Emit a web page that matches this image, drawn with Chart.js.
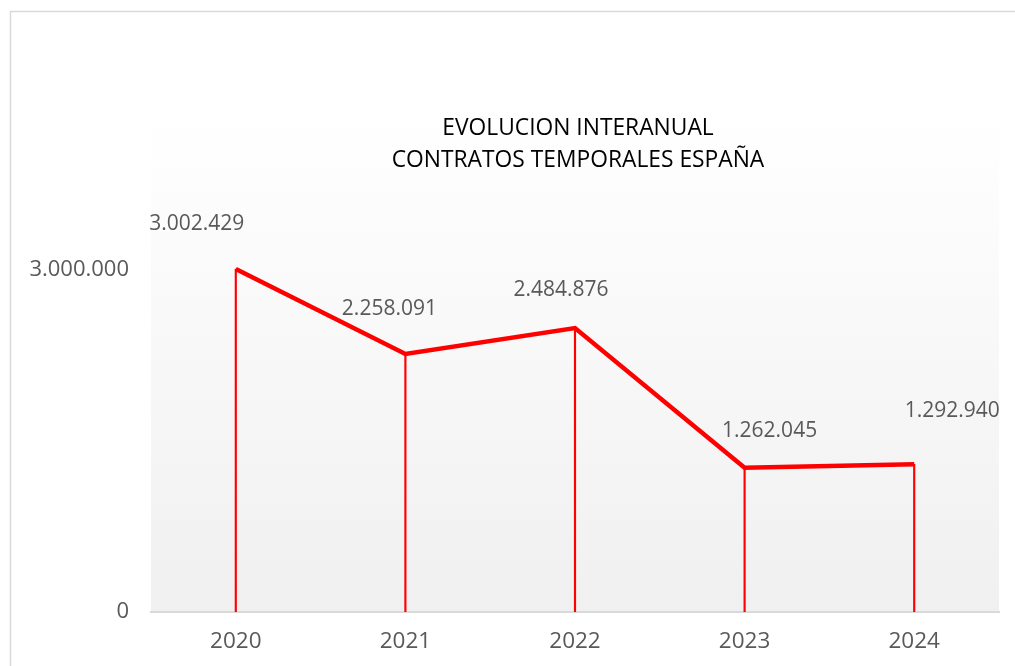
<!DOCTYPE html>
<html>
<head>
<meta charset="utf-8">
<script src="https://cdn.jsdelivr.net/npm/chart.js@4"></script>
<style>
  html, body { margin: 0; padding: 0; background: #fff; }
  #wrap { width: 1015px; height: 666px; position: relative; }
</style>
</head>
<body>
<div id="wrap"><canvas id="chart" width="1015" height="666"></canvas></div>
<script>
// Data
const years = ['2020', '2021', '2022', '2023', '2024'];
const contratos = [3002429, 2258091, 2484876, 1262045, 1292940];
const yTicks = [0, 3000000];
const titleLines = ['EVOLUCION INTERANUAL', 'CONTRATOS TEMPORALES ESPAÑA'];

function fmt(n) {
    return String(n).replace(/\B(?=(\d{3})+(?!\d))/g, '.');
}

// Label offsets (x, y) relative to each point
const labelOffsets = [[-39, -45], [-16, -45], [-14, -38], [25, -37], [38, -53]];

const backdrop = {
    id: 'backdrop',
    beforeDraw(chart) {
        const ctx = chart.ctx;
        const a = chart.chartArea;
        ctx.save();
        ctx.fillStyle = '#fff';
        ctx.fillRect(0, 0, chart.width, chart.height);
        ctx.strokeStyle = '#d9d9d9';
        ctx.lineWidth = 1.5;
        ctx.strokeRect(10.5, 11.5, 1100, 700);
        const g = ctx.createLinearGradient(0, a.top, 0, a.bottom);
        g.addColorStop(0, '#ffffff');
        g.addColorStop(1, '#f0f0f0');
        ctx.fillStyle = g;
        ctx.fillRect(a.left, a.top, a.right - a.left, a.bottom - a.top);
        ctx.restore();
    },
    afterDatasetsDraw(chart) {
        const ctx = chart.ctx;
        const meta = chart.getDatasetMeta(1);
        ctx.save();
        ctx.font = '21px "Open Sans"';
        ctx.fillStyle = '#595959';
        ctx.textAlign = 'center';
        ctx.textBaseline = 'middle';
        meta.data.forEach((pt, i) => {
            const o = labelOffsets[i];
            ctx.fillText(fmt(contratos[i]), pt.x + o[0], pt.y + o[1]);
        });
        // title
        ctx.fillStyle = '#000';
        ctx.font = '22.8px "Liberation Sans Narrow", "Open Sans"';
        ctx.fillText(titleLines[0], 578, 129);
        ctx.fillText(titleLines[1], 578, 161);
        ctx.restore();
    }
};

new Chart(document.getElementById('chart'), {
    data: {
        labels: years,
        datasets: [{
            type: 'bar',
            data: contratos,
            backgroundColor: '#ff0000',
            barThickness: 1.5,
            order: 2
        }, {
            type: 'line',
            data: contratos,
            borderColor: '#ff0000',
            borderWidth: 4.5,
            pointRadius: 0,
            tension: 0,
            order: 1
        }]
    },
    options: {
        responsive: false,
        animation: false,
        layout: { padding: { left: 0, top: 115, right: 16, bottom: 0 } },
        plugins: {
            legend: { display: false },
            tooltip: { enabled: false }
        },
        scales: {
            x: {
                offset: true,
                grid: { display: false, drawTicks: false },
                border: { display: true, color: '#d9d9d9', width: 2 },
                ticks: { color: '#595959', font: { family: 'Open Sans', size: 22.5 }, padding: 16 },
                afterFit(s) { s.height = 54; }
            },
            y: {
                min: 0,
                max: 4350000,
                grid: { display: false, drawTicks: false },
                border: { display: false },
                afterBuildTicks(s) { s.ticks = yTicks.map(v => ({ value: v })); },
                ticks: {
                    color: '#595959',
                    font: { family: 'Open Sans', size: 22 },
                    padding: 22,
                    callback: v => fmt(v)
                },
                afterFit(s) { s.width = 151; }
            }
        }
    },
    plugins: [backdrop]
});
</script>
</body>
</html>
